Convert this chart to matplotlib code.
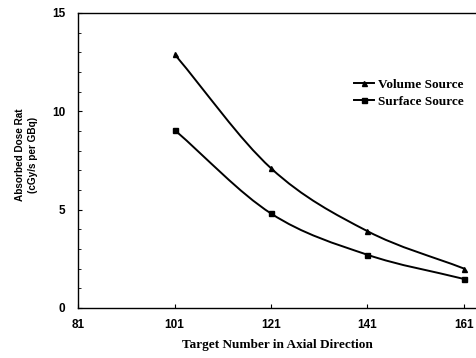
import numpy as np
import matplotlib.pyplot as plt
from matplotlib.path import Path
from matplotlib.patches import PathPatch
from matplotlib.lines import Line2D

# data
targets = [101, 121, 141, 161]
volume = [12.9, 7.1, 3.9, 2.0]
surface = [9.05, 4.8, 2.7, 1.47]
xticks = [81, 101, 121, 141, 161]
yticks = [0, 5, 10, 15]


def smooth_path(xs, ys):
    # catmull-rom through the points, as cubic bezier segments
    pts = np.column_stack([xs, ys]).astype(float)
    p = np.vstack([2 * pts[0] - pts[1], pts, 2 * pts[-1] - pts[-2]])
    verts = [tuple(pts[0])]
    codes = [Path.MOVETO]
    for i in range(1, len(p) - 2):
        c1 = p[i] + (p[i + 1] - p[i - 1]) / 6
        c2 = p[i + 1] - (p[i + 2] - p[i]) / 6
        verts += [tuple(c1), tuple(c2), tuple(p[i + 1])]
        codes += [Path.CURVE4] * 3
    return Path(verts, codes)


fig = plt.figure(figsize=(4.76, 3.58), dpi=100)
ax = fig.add_axes([0.164, 0.14, 0.836, 0.824])

for ys, mk in [(volume, '^'), (surface, 's')]:
    ax.add_patch(PathPatch(smooth_path(targets, ys), fill=False, lw=1.4, color='black'))
    ax.plot(targets, ys, ls='none', marker=mk, ms=3.6, color='black')

ax.set_xlim(81, 163.5)
ax.set_ylim(0, 15)
ax.set_xticks(xticks)
ax.set_yticks(yticks)
ax.set_yticks(np.arange(0, 16, 1), minor=True)
ax.tick_params(direction='in', length=3, width=0.8, labelsize=8.5)
ax.tick_params(axis='y', pad=9)
ax.tick_params(axis='x', pad=8)
ax.tick_params(which='minor', direction='in', length=2, width=0.6)
for lab in ax.get_xticklabels() + ax.get_yticklabels():
    lab.set_fontfamily('Liberation Sans')
    lab.set_fontweight('bold')
ax.spines['right'].set_visible(False)
for s in ['left', 'bottom', 'top']:
    ax.spines[s].set_linewidth(1.0)

ax.set_xlabel('Target Number in Axial Direction', fontfamily='Liberation Serif',
              fontweight='bold', fontsize=9.5)
ax.xaxis.set_label_coords(0.5, -0.105)
ax.set_ylabel('Absorbed Dose Rat\n(cGy/s per GBq)', fontfamily='Liberation Sans',
              fontweight='bold', fontsize=7.2, linespacing=1.35)
ax.yaxis.set_label_coords(-0.10, 0.52)

handles = [Line2D([], [], color='black', lw=1.4, marker='^', ms=3.6),
           Line2D([], [], color='black', lw=1.4, marker='s', ms=3.6)]
ax.legend(handles, ['Volume Source', 'Surface Source'], loc='upper left',
          bbox_to_anchor=(0.663, 0.817), frameon=False, handlelength=1.5,
          handletextpad=0.3, labelspacing=0.36,
          prop={'family': 'Liberation Serif', 'weight': 'bold', 'size': 9.5})

fig.savefig('out.png', dpi=100)
